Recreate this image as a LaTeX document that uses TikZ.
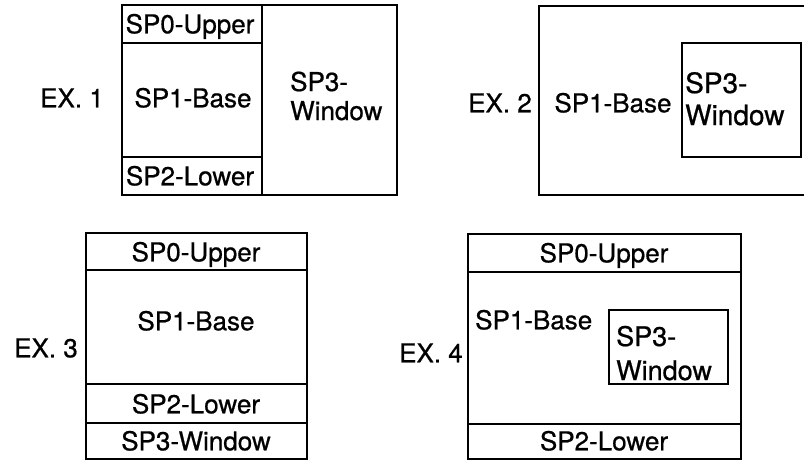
\documentclass[tikz,border=0pt]{standalone}
\usepackage{fontspec}
\setmainfont{TeX Gyre Heros}[FakeBold=0.7]
\begin{document}
\begin{tikzpicture}[x=1pt,y=-1pt,
  box/.style={line width=2.8pt},
  lbl/.style={inner sep=0pt,font=\fontsize{26}{30}\selectfont,text height=18.6pt,text depth=0pt},
  two/.style={inner sep=0pt,font=\fontsize{26}{29}\selectfont,align=left,anchor=base west}]
\useasboundingbox (0,0) rectangle (804,461);
\clip (0,0) rectangle (804,461);
% EX 1
\draw[box] (122,5) rectangle (397,195);
\draw[box] (262,5) -- (262,195);
\draw[box] (122,43) -- (262,43);
\draw[box] (122,157) -- (262,157);
\node[lbl] (e1up) at (190,24) {SP0-Upper};
\node[lbl] (e1base) at (193,98) {SP1-Base};
\node[lbl] (e1low) at (190,176) {SP2-Lower};
\node[two] (e1win) at (290,120) {SP3-\\Window};
\node[lbl,anchor=east] (ex1) at (104,98) {EX. 1};
% EX 2
\draw[box] (812,6) -- (539,6) -- (539,195) -- (812,195);
\draw[box] (682,43) rectangle (801,157);
\node[lbl] (e2base) at (613,103) {SP1-Base};
\node[two,font=\fontsize{28}{32}\selectfont] (e2win) at (685,125) {SP3-\\Window};
\node[lbl,anchor=east] (ex2) at (532,103) {EX. 2};
% EX 3
\draw[box] (86,233) rectangle (307,459);
\draw[box] (86,270) -- (307,270);
\draw[box] (86,384) -- (307,384);
\draw[box] (86,423) -- (307,423);
\node[lbl] (e3up) at (196,252) {SP0-Upper};
\node[lbl] (e3base) at (196,321) {SP1-Base};
\node[lbl] (e3low) at (196,404) {SP2-Lower};
\node[lbl] (e3win) at (196,441) {SP3-Window};
\node[lbl,anchor=east] (ex3) at (78,348) {EX. 3};
% EX 4
\draw[box] (468,234) rectangle (741,459);
\draw[box] (468,272) -- (741,272);
\draw[box] (468,424) -- (741,424);
\draw[box] (609,310) rectangle (728,384);
\node[lbl] (e4up) at (604,253) {SP0-Upper};
\node[lbl] (e4low) at (604,441) {SP2-Lower};
\node[lbl,anchor=west] (e4base) at (475,320) {SP1-Base};
\node[two,font=\fontsize{27}{34}\selectfont] (e4win) at (616,380) {SP3-\\Window};
\node[lbl,anchor=east] (ex4) at (463,353) {EX. 4};
\end{tikzpicture}
\end{document}
